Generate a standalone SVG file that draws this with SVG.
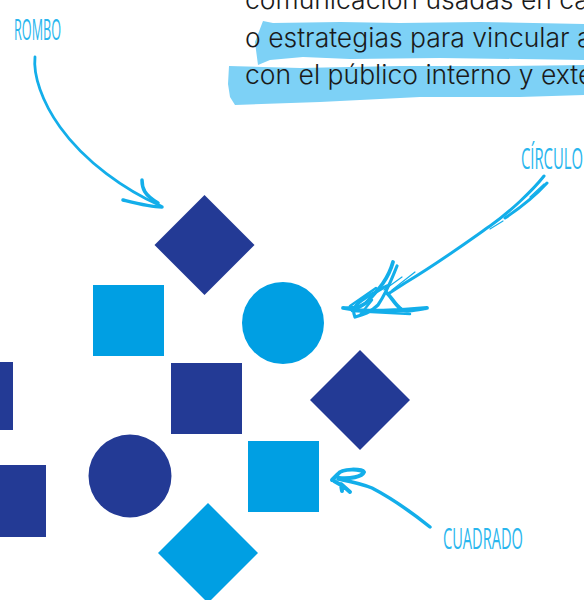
<svg xmlns="http://www.w3.org/2000/svg" width="584" height="600" viewBox="0 0 584 600">
<style>
.body{font-family:"Inter","Liberation Sans",sans-serif;font-size:26.500px;font-weight:300;fill:#1a1a1a}
.lab{font-family:"Liberation Sans Narrow","Open Sans",sans-serif;font-size:30px;fill:#29b6ee}
.dk{fill:#233a95}.lt{fill:#009fe3}
.a{fill:none;stroke:#13aeea;stroke-linecap:round;stroke-linejoin:round}
</style>
<rect width="584" height="600" fill="#fff"/>
<g id="highlight" fill="#7dd1f6">
<path d="M263 21L273 23L340 22L400 23L480 22L584 24V60L520 59L440 58L350 59L303 57L270 60L258 65L256 50L255 42Z"/>
<path d="M229 66L300 68L400 66L500 66L584 65V95L520 97L420 97L320 102L235 105L230 97L228 84Z"/>
</g>
<g id="text">
<text class="body" x="245" y="9">comunicación usadas en ca</text>
<text class="body" x="245" y="47">o estrategias para vincular a</text>
<text class="body" x="245" y="84">con el público interno y exte</text>
</g>
<g id="rombo1"><path class="dk" d="M204.500 195L254.500 245L204.500 295L154.500 245Z"/></g>
<g id="cuadrado1"><rect class="lt" x="93" y="285" width="71" height="71"/></g>
<g id="circulo1"><circle class="lt" cx="283" cy="323" r="41"/></g>
<g id="cuadrado2"><rect class="dk" x="171" y="363" width="71" height="71"/></g>
<g id="rombo2"><path class="dk" d="M360 350L410 400L360 450L310 400Z"/></g>
<g id="cuadrado3"><rect class="lt" x="248" y="441" width="71" height="71"/></g>
<g id="circulo2"><circle class="dk" cx="130" cy="476" r="41.500"/></g>
<g id="rombo3"><path class="lt" d="M208 503L258 553L208 603L158 553Z"/></g>
<g id="cuadrado4"><rect class="dk" x="-58" y="362" width="71" height="68"/></g>
<g id="cuadrado5"><rect class="dk" x="-25" y="465" width="71" height="72"/></g>
<g id="connectors">
<path class="a" stroke-width="2.800" d="M35 57C33 75 42 102 60 127C85 162 125 190 161 206"/>
<path class="a" stroke-width="3.500" d="M123 200C135 203 150 207 162 207M142 180C142 188 144 195 158 203"/>
<path class="a" stroke-width="3" d="M544 176C533 190 510 212 490 226C470 240 440 262 405 283L388 294"/>
<path class="a" stroke-width="3" d="M547 183C536 195 520 208 505 218"/>
<path class="a" stroke-width="1.200" d="M544 184L530 197M503 221L490 229M402 277L384 290M415 272L392 290"/>
<path class="a" stroke-width="3.800" d="M393 262C388 280 378 290 366 303C358 309 350 308 343 308C365 312 400 311 427 308C415 310 405 312 402 310C395 305 392 298 387 293"/>
<path class="a" stroke-width="3.200" d="M397 266C392 278 388 290 378 305C370 313 362 315 355 317C352 310 352 305 372 294C378 291 382 288 387 286"/>
<path class="a" stroke-width="2.500" d="M350 306L376 288M360 315L372 300M352 311L410 314"/>
<path class="a" stroke-width="3.500" d="M430 527C415 515 395 500 372 488C360 483 348 481 338 479"/>
<path class="a" stroke-width="4" d="M332 480L338 474C342 468 362 469 364 472C362 477 350 479 339 478M334 481L341 485L342 491M341 484L350 492"/>
</g>
<g id="labels">
<text class="lab" x="14" y="40" textLength="47" lengthAdjust="spacingAndGlyphs">ROMBO</text>
<text class="lab" x="521" y="169" textLength="62" lengthAdjust="spacingAndGlyphs">CÍRCULO</text>
<text class="lab" x="443" y="549" textLength="80" lengthAdjust="spacingAndGlyphs">CUADRADO</text>
</g>
</svg>
